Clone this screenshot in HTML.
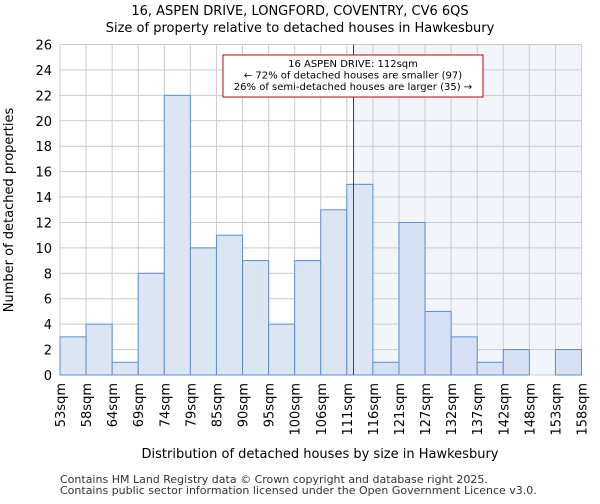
<!DOCTYPE html>
<html><head><meta charset="utf-8"><style>
body{margin:0;background:#fff;font-family:"DejaVu Sans","Liberation Sans",sans-serif}
svg text{font-family:"DejaVu Sans","Liberation Sans",sans-serif}
</style></head><body>
<svg id="chart" width="600" height="500" viewBox="0 0 600 500" xmlns="http://www.w3.org/2000/svg">
<text x="300" y="15" text-anchor="middle" font-size="13" fill="#000">16, ASPEN DRIVE, LONGFORD, COVENTRY, CV6 6QS</text>
<text x="300" y="32" text-anchor="middle" font-size="13" fill="#000">Size of property relative to detached houses in Hawkesbury</text>
<g id="plot"></g>
<text x="320" y="458" text-anchor="middle" font-size="13" fill="#000">Distribution of detached houses by size in Hawkesbury</text>
<text transform="translate(13,210) rotate(-90)" text-anchor="middle" font-size="13" fill="#000">Number of detached properties</text>
<text x="60" y="483" font-size="11" fill="#333">Contains HM Land Registry data © Crown copyright and database right 2025.</text>
<text x="60" y="494" font-size="11" fill="#333">Contains public sector information licensed under the Open Government Licence v3.0.</text>
</svg>
<script>
const categories=["53sqm","58sqm","64sqm","69sqm","74sqm","79sqm","85sqm","90sqm","95sqm","100sqm","106sqm","111sqm","116sqm","121sqm","127sqm","132sqm","137sqm","142sqm","148sqm","153sqm","158sqm"];
const counts=[3,4,1,8,22,10,11,9,4,9,13,15,1,12,5,3,1,2,0,2];
const yTicks=[0,2,4,6,8,10,12,14,16,18,20,22,24,26];
const markerValue=112;
const binEdges=[53,58,64,69,74,79,85,90,95,100,106,111,116,121,127,132,137,142,148,153,158];
const annotation=["16 ASPEN DRIVE: 112sqm","← 72% of detached houses are smaller (97)","26% of semi-detached houses are larger (35) →"];
const NS="http://www.w3.org/2000/svg";
const L=60,R=581.5,T=44.5,B=375;
const yMax=26;
const n=counts.length;
const bw=(R-L)/n;
const x=i=>L+i*bw;
const y=v=>B-(v/yMax)*(B-T);
function idxOf(v){for(let i=0;i<n;i++){if(v<=binEdges[i+1])return i+(v-binEdges[i])/(binEdges[i+1]-binEdges[i]);}return n;}
const g=document.getElementById('plot');
function mk(t,a){const e=document.createElementNS(NS,t);for(const k in a)e.setAttribute(k,a[k]);g.appendChild(e);return e;}
const mx=Math.round(x(idxOf(markerValue))+1)+0.5;
const sh=mk('rect',{x:mx,y:T,width:R-mx,height:B-T,fill:'#f2f6fc'});


for(let i=0;i<=n;i++){const l=mk('line',{x1:x(i),x2:x(i),y1:T,y2:B,stroke:'#cccccc','stroke-width':1});

}
yTicks.forEach(v=>{const l=mk('line',{x1:L,x2:R,y1:y(v),y2:y(v),stroke:'#cccccc','stroke-width':1});


const t=mk('text',{x:L-8,y:y(v)+5,'text-anchor':'end','font-size':13,fill:'#000'});t.textContent=v;

});
counts.forEach((c,i)=>{if(c<=0)return;const right=x(i)>=mx-3;
const r=mk('rect',{x:x(i),y:y(c),width:bw,height:B-y(c),fill:right?'#d6e2f3':'#dce6f2',stroke:'#5b8ed8','stroke-width':1});

});
categories.forEach((c,i)=>{const t=mk('text',{transform:`translate(${x(i)+5},383) rotate(-90)`,'text-anchor':'end','font-size':13,fill:'#000'});t.textContent=c;

});
const ml=mk('line',{x1:mx,x2:mx,y1:T,y2:B,stroke:'#e00000','stroke-width':1});


const bx=mk('rect',{x:223,y:55,width:260,height:42,fill:'#fff',stroke:'#cc0000','stroke-width':1});


annotation.forEach((s,k)=>{const t=mk('text',{x:353,y:67+k*11.5,'text-anchor':'middle','font-size':10,fill:'#000'});t.textContent=s;

});
</script>
</body></html>
